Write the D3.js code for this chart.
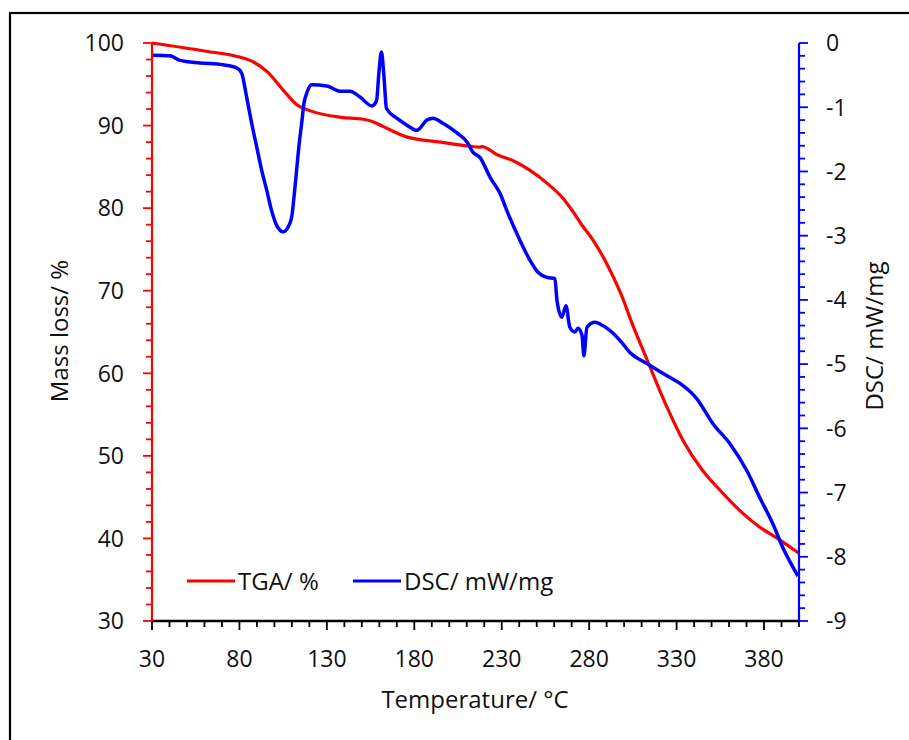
<!DOCTYPE html>
<html>
<head>
<meta charset="utf-8">
<script src="https://cdn.jsdelivr.net/npm/d3@7"></script>
<style>
  body { margin: 0; background: #fff; }
  text { font-family: "Open Sans", "Noto Sans", sans-serif; fill: #111; }
</style>
</head>
<body>
<div id="chart"></div>
<script>
// TGA curve (temperature in °C, mass in %)
const tgaTemp = [30, 61, 80, 88, 96, 105, 113, 119, 138, 150, 156, 162, 176, 195, 212, 217, 219, 222, 227, 236, 246, 256, 265, 271, 276, 282, 290, 298, 305, 313, 324.5, 333.6, 345, 355, 366, 378, 387, 400];
const tgaMass = [100, 99.0, 98.3, 97.7, 96.5, 94.3, 92.5, 91.9, 91.0, 90.8, 90.5, 89.9, 88.6, 88.0, 87.5, 87.4, 87.45, 87.2, 86.5, 85.8, 84.6, 83.0, 81.2, 79.5, 77.9, 76.2, 73.3, 69.7, 65.8, 61.7, 55.9, 51.9, 48.2, 45.8, 43.4, 41.3, 40.1, 38.2];

// DSC curve (temperature in °C, heat flow in mW/mg)
const dscTemp = [30, 40.3, 46, 57.4, 70.6, 78.6, 81.3, 84.1, 87, 89.9, 92.7, 95.6, 98.4, 101.3, 105.1, 107.9, 109.9, 111.2, 112.7, 114.2, 115.6, 116.9, 118.5, 121.3, 130, 137.5, 143.2, 148.9, 155.8, 158.4, 159.8, 161.2, 162.6, 164.1, 170, 175.8, 181.5, 187.2, 190.7, 196.4, 204.4, 210.1, 213.5, 217.5, 223.3, 229, 233.5, 240.4, 246.1, 250.7, 255.8, 260.4, 261.6, 264.4, 266.7, 269, 271.9, 273.6, 275.9, 277, 278.7, 283.3, 287.8, 297.6, 303.3, 313, 326.2, 331.9, 341.6, 350.8, 360.5, 370.2, 377.6, 385.1, 390.8, 399.4];
const dscVal = [-0.19, -0.2, -0.27, -0.31, -0.34, -0.39, -0.47, -0.84, -1.25, -1.62, -1.98, -2.29, -2.61, -2.84, -2.94, -2.86, -2.71, -2.4, -1.98, -1.56, -1.25, -0.94, -0.78, -0.65, -0.67, -0.75, -0.75, -0.84, -0.98, -0.9, -0.45, -0.14, -0.5, -1.02, -1.17, -1.28, -1.36, -1.2, -1.17, -1.25, -1.4, -1.54, -1.7, -1.78, -2.09, -2.34, -2.65, -3.07, -3.38, -3.57, -3.65, -3.67, -4.01, -4.27, -4.09, -4.43, -4.5, -4.44, -4.55, -4.87, -4.43, -4.35, -4.4, -4.63, -4.82, -4.99, -5.21, -5.3, -5.54, -5.93, -6.24, -6.66, -7.08, -7.49, -7.86, -8.3];

// axis ticks
const xMajor = d3.range(30, 401, 50);
const xMinor = d3.range(30, 401, 10);
const yLeftMajor = d3.range(30, 101, 10);
const yLeftMinor = d3.range(30, 101, 2);
const yRightMajor = d3.range(-9, 0.01, 1);
const yRightMinor = d3.range(-9, 0.01, 0.2);

const width = 909, height = 740;
const plot = {left: 152, right: 799, top: 43, bottom: 621};

const svg = d3.select("#chart").append("svg")
    .attr("width", width)
    .attr("height", height);

// outer frame
svg.append("rect")
    .attr("x", 10).attr("y", 13)
    .attr("width", 920).attr("height", 760)
    .attr("fill", "none")
    .attr("stroke", "#000")
    .attr("stroke-width", 2.2);

const x = d3.scaleLinear().domain([30, 400]).range([plot.left, plot.right]);
const yL = d3.scaleLinear().domain([30, 100]).range([plot.bottom, plot.top]);
const yR = d3.scaleLinear().domain([-9, 0]).range([plot.bottom, plot.top]);

// curves
const tgaLine = d3.line()
    .x((d, i) => x(tgaTemp[i]))
    .y(d => yL(d))
    .curve(d3.curveMonotoneX);
const dscLine = d3.line()
    .x((d, i) => x(dscTemp[i]))
    .y(d => yR(d))
    .curve(d3.curveMonotoneX);

svg.append("path")
    .attr("d", tgaLine(tgaMass))
    .attr("fill", "none")
    .attr("stroke", "#ff0000")
    .attr("stroke-width", 3.2);

svg.append("path")
    .attr("d", dscLine(dscVal))
    .attr("fill", "none")
    .attr("stroke", "#0000ff")
    .attr("stroke-width", 3.5);

// bottom axis
const bottom = svg.append("g");
bottom.selectAll(".minor").data(xMinor).enter().append("line")
    .attr("x1", d => x(d)).attr("x2", d => x(d))
    .attr("y1", plot.bottom).attr("y2", d => plot.bottom + (xMajor.includes(d) ? 9 : 6))
    .attr("stroke", "#000").attr("stroke-width", 1.8);
bottom.append("line")
    .attr("x1", plot.left - 1).attr("x2", plot.right)
    .attr("y1", plot.bottom).attr("y2", plot.bottom)
    .attr("stroke", "#000").attr("stroke-width", 2.4);
bottom.selectAll("text").data(xMajor).enter().append("text")
    .attr("x", d => x(d))
    .attr("y", 667)
    .attr("text-anchor", "middle")
    .style("font-size", "23px")
    .text(d => d);

// left axis (red)
const left = svg.append("g");
left.selectAll("line.tick").data(yLeftMinor).enter().append("line")
    .attr("x1", d => plot.left - (yLeftMajor.includes(d) ? 9 : 6)).attr("x2", plot.left)
    .attr("y1", d => yL(d)).attr("y2", d => yL(d))
    .attr("stroke", "#ff0000").attr("stroke-width", 1.8);
left.append("line")
    .attr("x1", plot.left).attr("x2", plot.left)
    .attr("y1", plot.top).attr("y2", plot.bottom)
    .attr("stroke", "#ff0000").attr("stroke-width", 2.2);
left.selectAll("text").data(yLeftMajor).enter().append("text")
    .attr("x", 124)
    .attr("y", d => yL(d))
    .attr("dy", "0.36em")
    .attr("text-anchor", "end")
    .style("font-size", "23px")
    .text(d => d);

// right axis (blue)
const right = svg.append("g");
right.selectAll("line.tick").data(yRightMinor).enter().append("line")
    .attr("x1", plot.right)
    .attr("x2", d => plot.right + (Math.abs(d - Math.round(d)) < 1e-6 ? 9 : 6))
    .attr("y1", d => yR(d)).attr("y2", d => yR(d))
    .attr("stroke", "#0000ff").attr("stroke-width", 1.8);
right.append("line")
    .attr("x1", plot.right).attr("x2", plot.right)
    .attr("y1", plot.top).attr("y2", plot.bottom)
    .attr("stroke", "#0000ff").attr("stroke-width", 2.2);
right.selectAll("text").data(yRightMajor).enter().append("text")
    .attr("x", 826)
    .attr("y", d => yR(d))
    .attr("dy", "0.36em")
    .attr("text-anchor", "start")
    .style("font-size", "23px")
    .text(d => d3.format("d")(d).replace("−", "-"));

// axis titles
svg.append("text")
    .attr("transform", "translate(68,331) rotate(-90)")
    .attr("text-anchor", "middle")
    .style("font-size", "24px")
    .text("Mass loss/ %");

svg.append("text")
    .attr("transform", "translate(883,336) rotate(-90)")
    .attr("text-anchor", "middle")
    .style("font-size", "24px")
    .text("DSC/ mW/mg");

svg.append("text")
    .attr("x", 475)
    .attr("y", 708)
    .attr("text-anchor", "middle")
    .style("font-size", "24px")
    .text("Temperature/ °C");

// legend
const legendData = [
    {label: "TGA/ %", color: "#ff0000", x: 187},
    {label: "DSC/ mW/mg", color: "#0000ff", x: 353}
];
const legend = svg.append("g");
legend.selectAll("line").data(legendData).enter().append("line")
    .attr("x1", d => d.x).attr("x2", d => d.x + 48)
    .attr("y1", 581).attr("y2", 581)
    .attr("stroke", d => d.color)
    .attr("stroke-width", 3.2);
legend.selectAll("text").data(legendData).enter().append("text")
    .attr("x", d => d.x + 51)
    .attr("y", 581)
    .attr("dy", "0.36em")
    .style("font-size", "24px")
    .text(d => d.label);
</script>
</body>
</html>
